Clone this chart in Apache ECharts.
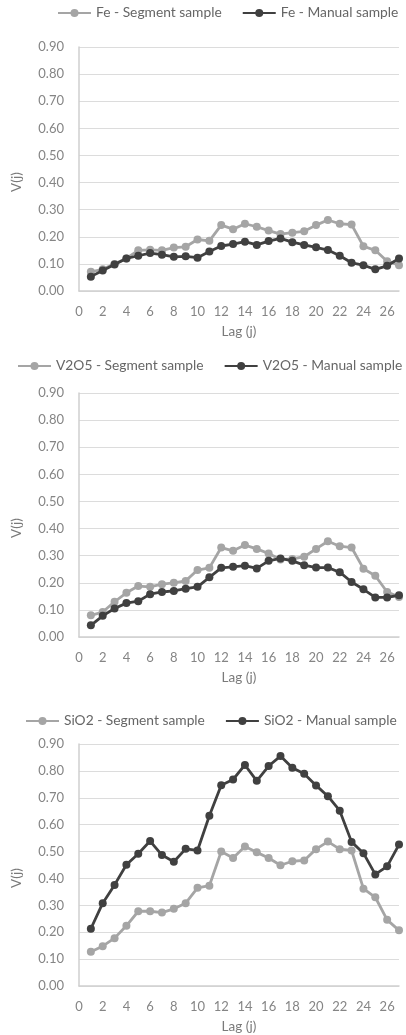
<!DOCTYPE html>
<html><head><meta charset="utf-8">
<script src="https://cdn.jsdelivr.net/npm/echarts@6/dist/echarts.min.js"></script>
<style>html,body{margin:0;padding:0;background:#fff}#c{width:406px;height:1035px}</style>
</head><body><div id="c"></div>
<script>
const lags = [1,2,3,4,5,6,7,8,9,10,11,12,13,14,15,16,17,18,19,20,21,22,23,24,25,26,27];
const feSegment = [0.071,0.08,0.10,0.12,0.15,0.152,0.15,0.16,0.163,0.19,0.185,0.243,0.228,0.248,0.237,0.223,0.21,0.215,0.22,0.243,0.262,0.248,0.245,0.165,0.15,0.11,0.095];
const feManual = [0.053,0.076,0.098,0.12,0.13,0.14,0.134,0.126,0.128,0.123,0.146,0.166,0.173,0.182,0.17,0.184,0.194,0.18,0.17,0.161,0.151,0.13,0.104,0.095,0.08,0.093,0.12];
const vSegment = [0.08,0.092,0.13,0.163,0.188,0.185,0.195,0.20,0.207,0.247,0.255,0.33,0.318,0.339,0.325,0.308,0.286,0.288,0.296,0.325,0.353,0.335,0.33,0.252,0.226,0.166,0.148];
const vManual = [0.043,0.078,0.105,0.125,0.132,0.158,0.166,0.17,0.178,0.185,0.22,0.255,0.259,0.263,0.253,0.281,0.29,0.281,0.265,0.256,0.256,0.239,0.203,0.176,0.146,0.146,0.154];
const siSegment = [0.127,0.148,0.178,0.224,0.278,0.278,0.273,0.287,0.308,0.365,0.373,0.50,0.476,0.519,0.497,0.476,0.449,0.464,0.467,0.509,0.537,0.509,0.504,0.362,0.33,0.246,0.207];
const siManual = [0.213,0.308,0.376,0.451,0.492,0.539,0.487,0.462,0.51,0.504,0.633,0.747,0.768,0.822,0.763,0.818,0.855,0.812,0.789,0.746,0.706,0.652,0.536,0.494,0.415,0.445,0.526];
const panels = [
  {seg:'Fe - Segment sample', man:'Fe - Manual sample', a:feSegment, b:feManual},
  {seg:'V2O5 - Segment sample', man:'V2O5 - Manual sample', a:vSegment, b:vManual},
  {seg:'SiO2 - Segment sample', man:'SiO2 - Manual sample', a:siSegment, b:siManual}
];
const yTicksMax = 0.9, yInterval = 0.1;
const xMax = 27, xInterval = 2;

const tops = [47, 393, 744];
const heights = [244, 244, 243];
const legendTops = [6, 359, 714];
const legendLefts = [57, 17, 25];
const LIGHT = '#a5a5a5', DARK = '#404040', TXT = '#858585';
const FONT = 'Lato';
const pair = d => d.map((v,i)=>[lags[i], v]);

const option = {
  backgroundColor:'#fff',
  animation:false,
  textStyle:{fontFamily:FONT},
  legend: panels.map((p,i)=>({
    top: legendTops[i], left: legendLefts[i], width: 400, padding: 0,
    data:[p.seg, p.man],
    itemWidth:33, itemHeight:10, itemGap:20,
    textStyle:{color:'#666666', fontSize:13.8, fontFamily:FONT}
  })),
  grid: panels.map((p,i)=>({left:79, right:7, top:tops[i], height:heights[i]})),
  xAxis: panels.map((p,i)=>({
    type:'value', gridIndex:i, min:0, max:xMax, interval:xInterval,
    name:'Lag (j)', nameLocation:'middle', nameGap:34,
    nameTextStyle:{color:'#7a7a7a', fontSize:13.5, fontFamily:FONT},
    axisLine:{show:true, lineStyle:{color:'#cfcfcf', width:1.5}},
    axisTick:{show:false},
    splitLine:{show:false},
    axisLabel:{color:TXT, fontSize:13, margin:14, showMaxLabel:false, fontFamily:FONT}
  })),
  yAxis: panels.map((p,i)=>({
    type:'value', gridIndex:i, min:0, max:yTicksMax, interval:yInterval,
    name:'V(j)', nameLocation:'middle', nameGap:55,
    nameTextStyle:{color:'#7a7a7a', fontSize:13.5, fontFamily:FONT, padding:[0,26,0,0]},
    axisLine:{show:true, lineStyle:{color:'#cfcfcf', width:1.5}},
    axisTick:{show:false},
    splitLine:{show:true, lineStyle:{color:'#dcdcdc', width:1}},
    axisLabel:{color:TXT, fontSize:13, margin:15, formatter:v=>v.toFixed(2), fontFamily:FONT}
  })),
  series: panels.flatMap((p,i)=>[
    {name:p.seg, type:'line', xAxisIndex:i, yAxisIndex:i, data:pair(p.a),
     symbol:'circle', symbolSize:8, color:LIGHT,
     lineStyle:{width:2.8, color:LIGHT}, itemStyle:{color:LIGHT}, z:2},
    {name:p.man, type:'line', xAxisIndex:i, yAxisIndex:i, data:pair(p.b),
     symbol:'circle', symbolSize:8, color:DARK,
     lineStyle:{width:2.8, color:DARK}, itemStyle:{color:DARK}, z:3}
  ])
};
const chart = echarts.init(document.getElementById('c'), null, {renderer:'canvas'});
chart.setOption(option);
</script></body></html>
